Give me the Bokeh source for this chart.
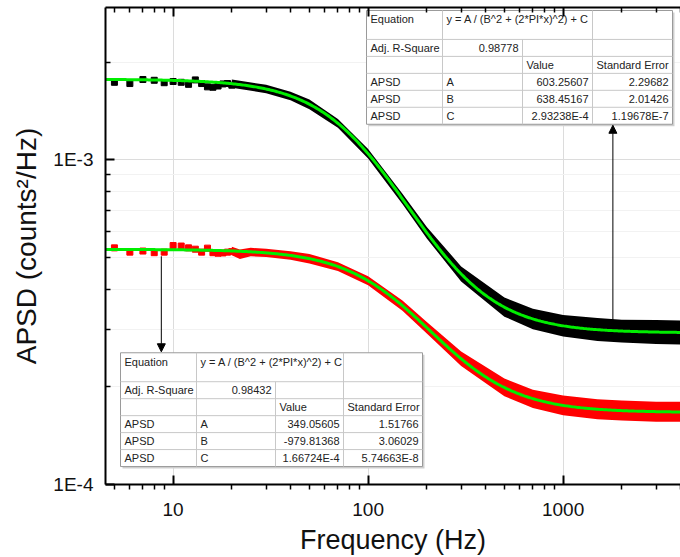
import numpy as np
from bokeh.plotting import figure
from bokeh.models import FixedTicker, CustomJSTickFormatter, LogAxis, Arrow, NormalHead
from bokeh.core.properties import value
from bokeh.embed import file_html
from bokeh.resources import INLINE

# ---------------- data ----------------
x_ticks = [10, 100, 1000]
x_minor = [5, 6, 7, 8, 9, 20, 30, 40, 50, 60, 70, 80, 90,
           200, 300, 400, 500, 600, 700, 800, 900, 2000, 3000, 4000]
y_ticks = [1e-4, 1e-3]
y_minor = [2e-4, 3e-4, 4e-4, 5e-4, 6e-4, 7e-4, 8e-4, 9e-4, 2e-3]

# black series: sparse low-frequency points
black_pts_f = [5, 6, 7, 8, 9, 10, 11, 12, 13, 14, 15, 16, 17, 18, 19, 20]
black_pts_y = [1.735e-3, 1.72e-3, 1.77e-3, 1.76e-3, 1.73e-3, 1.745e-3, 1.735e-3, 1.71e-3,
               1.765e-3, 1.72e-3, 1.68e-3, 1.675e-3, 1.69e-3, 1.715e-3, 1.72e-3, 1.70e-3]
# black series: dense band (lower / upper envelope)
black_band_f = [20, 30, 40, 50, 70, 100, 150, 200, 300, 500, 700, 1000, 1500, 2000, 3000, 4000]
black_band_lo = [1.668e-3, 1.606e-3, 1.529e-3, 1.434e-3, 1.256e-3, 1.010e-3, 7.32e-4, 5.73e-4,
                 4.22e-4, 3.29e-4, 3.01e-4, 2.86e-4, 2.77e-4, 2.74e-4, 2.71e-4, 2.70e-4]
black_band_hi = [1.770e-3, 1.704e-3, 1.622e-3, 1.535e-3, 1.338e-3, 1.081e-3, 7.87e-4, 6.22e-4,
                 4.70e-4, 3.77e-4, 3.48e-4, 3.33e-4, 3.26e-4, 3.22e-4, 3.21e-4, 3.20e-4]

# red series
red_pts_f = [5, 6, 7, 8, 9, 10, 11, 12, 13, 14, 15, 16, 17, 18, 19, 20]
red_pts_y = [5.36e-4, 5.20e-4, 5.24e-4, 5.18e-4, 5.20e-4, 5.45e-4, 5.43e-4, 5.36e-4,
             5.31e-4, 5.20e-4, 5.35e-4, 5.18e-4, 5.16e-4, 5.17e-4, 5.20e-4, 5.22e-4]
red_band_f = [20, 22, 25, 30, 40, 50, 70, 100, 150, 200, 300, 500, 700, 1000, 1500, 2000, 3000, 4000]
red_band_lo = [5.09e-4, 4.95e-4, 5.05e-4, 5.02e-4, 4.93e-4, 4.80e-4, 4.55e-4, 4.11e-4, 3.43e-4,
               2.92e-4, 2.32e-4, 1.87e-4, 1.72e-4, 1.635e-4, 1.59e-4, 1.575e-4, 1.56e-4, 1.56e-4]
red_band_hi = [5.40e-4, 5.30e-4, 5.36e-4, 5.33e-4, 5.23e-4, 5.13e-4, 4.84e-4, 4.38e-4, 3.69e-4,
               3.17e-4, 2.57e-4, 2.12e-4, 1.96e-4, 1.88e-4, 1.83e-4, 1.815e-4, 1.80e-4, 1.80e-4]

# fit parameters (shown in the tables)
black_fit = dict(A=603.25607, B=638.45167, C=2.93238e-4)
red_fit = dict(A=349.05605, B=-979.81368, C=1.66724e-4)

top_table = [
    ["Equation", "y = A / (B^2 + (2*PI*x)^2) + C", "", ""],
    ["Adj. R-Square", "0.98778", "", ""],
    ["", "", "Value", "Standard Error"],
    ["APSD", "A", "603.25607", "2.29682"],
    ["APSD", "B", "638.45167", "2.01426"],
    ["APSD", "C", "2.93238E-4", "1.19678E-7"],
]
bottom_table = [
    ["Equation", "y = A / (B^2 + (2*PI*x)^2) + C", "", ""],
    ["Adj. R-Square", "0.98432", "", ""],
    ["", "", "Value", "Standard Error"],
    ["APSD", "A", "349.05605", "1.51766"],
    ["APSD", "B", "-979.81368", "3.06029"],
    ["APSD", "C", "1.66724E-4", "5.74663E-8"],
]

# ---------------- layout ----------------
W, H = 680, 557
X_RANGE = (4.5, 4000)
Y_RANGE = (1e-4, 2.95e-3)
FL, FR, FT, FB = 105, 680, 7, 485  # frame in canvas pixels
LX0, LX1 = np.log10(X_RANGE[0]), np.log10(X_RANGE[1])
LY0, LY1 = np.log10(Y_RANGE[0]), np.log10(Y_RANGE[1])


def px_x(px):
    return 10 ** (LX0 + (px - FL) / (FR - FL) * (LX1 - LX0))


def px_y(py):
    return 10 ** (LY1 - (py - FT) / (FB - FT) * (LY1 - LY0))


FONT = "Liberation Sans"

p = figure(width=W, height=H, x_axis_type="log", y_axis_type="log",
           x_range=X_RANGE, y_range=Y_RANGE, output_backend="svg",
           toolbar_location=None, min_border_left=FL, min_border_right=W - FR,
           min_border_top=FT, min_border_bottom=H - FB)
p.outline_line_color = None
p.background_fill_color = "white"

# axes
p.xaxis.ticker = FixedTicker(ticks=x_ticks, minor_ticks=x_minor)
p.yaxis.ticker = FixedTicker(ticks=y_ticks, minor_ticks=y_minor)
p.xaxis.formatter = CustomJSTickFormatter(code="return tick.toFixed(0);")
p.yaxis.formatter = CustomJSTickFormatter(code="return '1E' + Math.round(Math.log10(tick));")
for ax in (p.xaxis[0], p.yaxis[0]):
    ax.axis_line_width = 2
    ax.axis_line_color = "black"
    ax.major_tick_line_color = "black"
    ax.minor_tick_line_color = "black"
    ax.major_tick_line_width = 2
    ax.minor_tick_line_width = 1.5
    ax.major_label_text_font = FONT
    ax.major_label_text_font_size = "19px"
    ax.major_label_text_color = "#111111"
    ax.axis_label_text_font = FONT
    ax.axis_label_text_font_style = "normal"
    ax.axis_label_text_color = "#111111"

p.xaxis.major_tick_in = 9
p.xaxis.major_tick_out = 0
p.xaxis.minor_tick_in = 0
p.xaxis.minor_tick_out = 5
p.xaxis.major_label_standoff = 13
p.xaxis.axis_label = "Frequency (Hz)"
p.xaxis.axis_label_text_font_size = "27px"
p.xaxis.axis_label_standoff = 6

p.yaxis.major_tick_in = 9
p.yaxis.major_tick_out = 0
p.yaxis.minor_tick_in = 5
p.yaxis.minor_tick_out = 0
p.yaxis.major_label_standoff = 12
p.yaxis.axis_label = "APSD (counts\u00b2/Hz)"
p.yaxis.axis_label_text_font_size = "28px"
p.yaxis.axis_label_standoff = 8

top_ax = LogAxis(ticker=FixedTicker(ticks=x_ticks, minor_ticks=x_minor),
                 formatter=CustomJSTickFormatter(code="return '';"),
                 major_label_text_font_size="0px", major_label_standoff=0,
                 axis_line_width=2, major_tick_in=9, major_tick_out=0,
                 minor_tick_in=5, minor_tick_out=0, major_tick_line_width=2,
                 minor_tick_line_width=1.5)
p.add_layout(top_ax, "above")

p.xgrid.grid_line_color = "#dcdcdc"
p.ygrid.grid_line_color = "#dcdcdc"
p.ygrid.minor_grid_line_color = "#f2f2f2"

# data: bands and points
p.varea(x=black_band_f, y1=black_band_lo, y2=black_band_hi, fill_color="black")
p.scatter(black_pts_f, black_pts_y, marker="square", size=6, color="black")
p.varea(x=red_band_f, y1=red_band_lo, y2=red_band_hi, fill_color="red")
p.scatter(red_pts_f, red_pts_y, marker="square", size=6, color="red")

# fit curves from the fitted equation
fx = np.logspace(LX0, LX1, 400)
for par in (black_fit, red_fit):
    fy = par["A"] / (par["B"] ** 2 + (2 * np.pi * fx) ** 2) + par["C"]
    p.line(fx, fy, line_color="#00ee00", line_width=3)


# tables
def draw_table(left, top, col_w, row_h, cells):
    xs = np.cumsum([left] + col_w)
    ys = np.cumsum([top] + row_h)
    p.quad(left=px_x(xs[0] + 2), right=px_x(xs[-1] + 2), top=px_y(ys[0] + 2),
           bottom=px_y(ys[-1] + 2), fill_color="#cfcfcf", line_color=None)
    p.quad(left=px_x(xs[0]), right=px_x(xs[-1]), top=px_y(ys[0]),
           bottom=px_y(ys[-1]), fill_color="white", line_color="#9a9a9a", line_width=1)
    hx0, hx1, hy = [], [], []
    for r in range(1, len(row_h)):
        hx0.append(px_x(xs[0])); hx1.append(px_x(xs[-1])); hy.append(px_y(ys[r]))
    p.segment(x0=hx0, x1=hx1, y0=hy, y1=hy, line_color="#c8c8c8", line_width=1)
    vx, vy0, vy1 = [], [], []
    for c in range(1, len(col_w)):
        start = 1 if c == 2 else 0
        vx.append(px_x(xs[c])); vy0.append(px_y(ys[start])); vy1.append(px_y(ys[-1]))
    p.segment(x0=vx, x1=vx, y0=vy0, y1=vy1, line_color="#c8c8c8", line_width=1)
    lx, ly, lt, rx, ry, rt = [], [], [], [], [], []
    for r, row in enumerate(cells):
        yc = ys[r] + 9 if r == 0 else (ys[r] + ys[r + 1]) / 2
        for c, t in enumerate(row):
            if not t:
                continue
            right_al = (c == 1 and r == 1) or (c >= 2 and r >= 3)
            if right_al:
                rx.append(px_x(xs[c + 1] - 4)); ry.append(px_y(yc)); rt.append(t)
            else:
                lx.append(px_x(xs[c] + 4)); ly.append(px_y(yc)); lt.append(t)
    p.text(lx, ly, text=lt, text_font=value(FONT), text_font_size="11px",
           text_baseline="middle", text_align="left", text_color="#222222")
    p.text(rx, ry, text=rt, text_font=value(FONT), text_font_size="11px",
           text_baseline="middle", text_align="right", text_color="#222222")


draw_table(366, 10, [76, 80, 70, 80], [29, 17, 17, 17, 17, 17], top_table)
draw_table(120, 353, [76, 79, 68, 79], [29, 17, 17, 17, 17, 17], bottom_table)

# arrows
p.add_layout(Arrow(end=NormalHead(size=8, fill_color="black", line_color="black"),
                   x_start=1800, y_start=3.17e-4, x_end=1800, y_end=px_y(125),
                   line_color="black", line_width=1))
p.add_layout(Arrow(end=NormalHead(size=8, fill_color="black", line_color="black"),
                   x_start=8.7, y_start=5.05e-4, x_end=8.7, y_end=px_y(352),
                   line_color="black", line_width=1))

open("out.html", "w").write(file_html(p, INLINE))
